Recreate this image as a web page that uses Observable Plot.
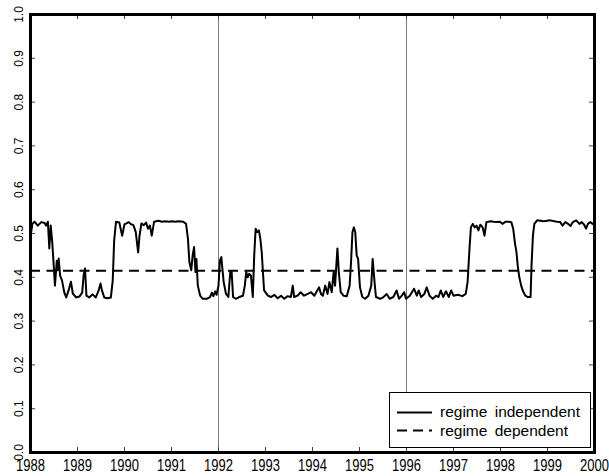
<!DOCTYPE html>
<html>
<head>
<meta charset="utf-8">
<script src="https://cdn.jsdelivr.net/npm/d3@7"></script>
<script src="https://cdn.jsdelivr.net/npm/@observablehq/plot@0.6"></script>
<style>
  html, body { margin: 0; padding: 0; background: #fff; }
  #wrap { position: relative; width: 609px; height: 476px; }
  #legend { position: absolute; left: 389px; top: 392px; }
</style>
</head>
<body>
<div id="wrap"></div>
<script>
// ---- data ----
const years = [
  1988.01,1988.04,1988.085,1988.155,1988.23,1988.30,1988.33,1988.37,1988.40,1988.43,
  1988.46,1988.49,1988.52,1988.56,1988.58,1988.60,1988.63,1988.67,1988.72,1988.76,
  1988.81,1988.86,1988.90,1988.97,1989.04,1989.10,1989.13,1989.16,1989.19,1989.25,
  1989.32,1989.39,1989.45,1989.49,1989.52,1989.57,1989.64,1989.71,1989.75,1989.78,
  1989.82,1989.89,1989.95,1990.00,1990.04,1990.09,1990.14,1990.19,1990.24,1990.29,
  1990.32,1990.36,1990.41,1990.46,1990.50,1990.54,1990.58,1990.63,1990.72,1990.80,
  1990.87,1990.95,1991.01,1991.08,1991.15,1991.25,1991.31,1991.35,1991.38,1991.42,
  1991.45,1991.48,1991.51,1991.53,1991.56,1991.61,1991.66,1991.75,1991.82,1991.86,
  1991.89,1991.93,1991.96,1992.00,1992.03,1992.06,1992.11,1992.16,1992.21,1992.25,
  1992.28,1992.31,1992.37,1992.44,1992.52,1992.56,1992.59,1992.62,1992.65,1992.69,
  1992.73,1992.76,1992.79,1992.82,1992.86,1992.89,1992.92,1992.95,1992.97,1993.05,
  1993.12,1993.19,1993.26,1993.33,1993.40,1993.47,1993.54,1993.58,1993.61,1993.68,
  1993.75,1993.82,1993.90,1993.97,1994.04,1994.10,1994.14,1994.18,1994.22,1994.27,
  1994.32,1994.36,1994.41,1994.45,1994.48,1994.53,1994.56,1994.60,1994.66,1994.73,
  1994.79,1994.82,1994.85,1994.88,1994.91,1994.94,1994.97,1995.01,1995.06,1995.12,
  1995.19,1995.25,1995.28,1995.32,1995.35,1995.44,1995.51,1995.58,1995.64,1995.72,
  1995.79,1995.84,1995.90,1995.95,1995.99,1996.07,1996.16,1996.22,1996.26,1996.31,
  1996.38,1996.43,1996.49,1996.56,1996.63,1996.68,1996.73,1996.78,1996.84,1996.90,
  1996.95,1997.00,1997.09,1997.19,1997.26,1997.30,1997.34,1997.37,1997.41,1997.45,
  1997.49,1997.53,1997.57,1997.62,1997.66,1997.70,1997.79,1997.90,1997.99,1998.04,
  1998.11,1998.18,1998.23,1998.27,1998.31,1998.34,1998.37,1998.40,1998.44,1998.48,
  1998.53,1998.58,1998.64,1998.66,1998.69,1998.72,1998.78,1998.92,1999.06,1999.20,
  1999.27,1999.32,1999.38,1999.44,1999.49,1999.54,1999.61,1999.68,1999.73,1999.78,
  1999.82,1999.86,1999.91,1999.96
];
const indepProb = [
  0.500,0.522,0.527,0.518,0.526,0.524,0.518,0.527,0.466,0.518,
  0.484,0.434,0.381,0.438,0.416,0.443,0.404,0.393,0.365,0.354,
  0.370,0.390,0.363,0.354,0.356,0.365,0.404,0.420,0.358,0.354,
  0.361,0.354,0.370,0.386,0.370,0.354,0.352,0.354,0.393,0.484,
  0.527,0.525,0.495,0.521,0.523,0.526,0.521,0.519,0.503,0.457,
  0.495,0.523,0.519,0.525,0.511,0.518,0.495,0.527,0.529,0.527,
  0.528,0.527,0.528,0.527,0.528,0.527,0.522,0.488,0.435,0.416,
  0.450,0.469,0.412,0.442,0.381,0.358,0.351,0.351,0.355,0.365,
  0.357,0.368,0.360,0.381,0.438,0.446,0.389,0.362,0.355,0.412,
  0.412,0.355,0.351,0.355,0.358,0.381,0.412,0.400,0.408,0.404,
  0.355,0.450,0.511,0.503,0.507,0.488,0.457,0.404,0.370,0.358,
  0.355,0.360,0.352,0.358,0.351,0.357,0.355,0.381,0.355,0.358,
  0.366,0.358,0.362,0.366,0.358,0.370,0.377,0.362,0.358,0.381,
  0.362,0.389,0.366,0.412,0.381,0.466,0.412,0.366,0.358,0.357,
  0.381,0.435,0.503,0.514,0.503,0.450,0.442,0.377,0.355,0.351,
  0.358,0.381,0.442,0.389,0.355,0.351,0.355,0.362,0.351,0.355,
  0.370,0.351,0.358,0.366,0.351,0.358,0.374,0.358,0.370,0.355,
  0.362,0.377,0.358,0.351,0.358,0.355,0.370,0.355,0.368,0.355,
  0.370,0.358,0.360,0.357,0.362,0.389,0.465,0.514,0.522,0.514,
  0.518,0.507,0.520,0.514,0.495,0.526,0.528,0.526,0.527,0.522,
  0.527,0.527,0.526,0.511,0.476,0.457,0.423,0.400,0.381,0.368,
  0.358,0.355,0.355,0.427,0.495,0.522,0.530,0.528,0.530,0.527,
  0.526,0.518,0.526,0.522,0.517,0.526,0.530,0.522,0.526,0.520,
  0.511,0.522,0.526,0.522
];
const regimeDependentLevel = 0.415;
const markerYears = [1992, 1996];
const xTicks = [1988,1989,1990,1991,1992,1993,1994,1995,1996,1997,1998,1999,2000];
const yTicks = [0,0.1,0.2,0.3,0.4,0.5,0.6,0.7,0.8,0.9,1.0];
const seriesNames = ["regime independent", "regime dependent"];

// ---- layout ----
const W = 609, H = 476, mL = 30, mR = 15, mT = 14, mB = 24;
const fw = W - mL - mR, fh = H - mT - mB;
const tickLen = 5;
const xPad = 9;
const baseFont = "'Liberation Sans',Arial,sans-serif";

const table = years.map((t, i) => ({t, p: indepProb[i]}));

const chart = Plot.plot({
  width: W, height: H,
  marginLeft: mL, marginRight: mR, marginTop: mT, marginBottom: mB,
  x: {domain: [1988, 2000], label: null},
  y: {domain: [0, 1], label: null},
  style: {fontFamily: baseFont, background: "white", color: "black"},
  marks: [
    Plot.ruleX(markerYears, {stroke: "#777", strokeWidth: 1}),
    Plot.ruleY([regimeDependentLevel], {stroke: "black", strokeWidth: 2, strokeDasharray: "10,6.5"}),
    Plot.line(table, {x: "t", y: "p", stroke: "black", strokeWidth: 2, strokeLinejoin: "round"}),
    Plot.tickY(yTicks, {y: d => d, insetRight: fw - tickLen, stroke: "#444"}),
    Plot.tickY(yTicks, {y: d => d, insetLeft: fw - tickLen, stroke: "#444"}),
    Plot.tickX(xTicks, {x: d => d, insetTop: fh - tickLen, stroke: "#444"}),
    Plot.tickX(xTicks, {x: d => d, insetBottom: fh - tickLen, stroke: "#444"}),
    Plot.frame({stroke: "black", strokeWidth: 3}),
    Plot.axisX(xTicks, {anchor: "bottom", tickSize: 0, tickPadding: xPad, tickFormat: "d",
      fontSize: 13, fontFamily: baseFont, label: null}),
    Plot.axisY(yTicks, {anchor: "left", tickSize: 0, tickRotate: -90, tickPadding: 8,
      tickFormat: ".1f", fontSize: 12, fontFamily: baseFont, label: null})
  ]
});

// stretch the x tick labels vertically (tall, narrow digits as in the reference)
{
  const g = chart.querySelector("g[aria-label='x-axis tick label']");
  if (g) {
    const ns = "http://www.w3.org/2000/svg";
    const inner = document.createElementNS(ns, "g");
    const y0 = H - mB + xPad;
    inner.setAttribute("transform", `translate(0,${y0}) scale(1,1.3) translate(0,${-y0})`);
    while (g.firstChild) inner.appendChild(g.firstChild);
    g.appendChild(inner);
  }
}

const wrap = document.getElementById("wrap");
wrap.appendChild(chart);

// ---- legend (inside plot area, bottom right) ----
const lw = 202, lh = 56;
const legend = d3.create("svg")
  .attr("id", "legend")
  .attr("width", lw).attr("height", lh)
  .style("font-family", baseFont)
  .style("font-size", "15.5px");
legend.append("rect").attr("x", 0.5).attr("y", 0.5).attr("width", lw - 1).attr("height", lh - 1)
  .attr("fill", "white").attr("stroke", "black").attr("stroke-width", 1);
const rows = [
  {name: seriesNames[0], dash: null, ly: 20.5, ty: 25},
  {name: seriesNames[1], dash: "10,6", ly: 38.5, ty: 44}
];
rows.forEach(r => {
  const ln = legend.append("line").attr("x1", 8).attr("x2", 43).attr("y1", r.ly).attr("y2", r.ly)
    .attr("stroke", "black").attr("stroke-width", 2);
  if (r.dash) ln.attr("stroke-dasharray", r.dash);
  legend.append("text").attr("x", 51).attr("y", r.ty).attr("fill", "black")
    .style("word-spacing", "3px").text(r.name);
});
wrap.appendChild(legend.node());
</script>
</body>
</html>
